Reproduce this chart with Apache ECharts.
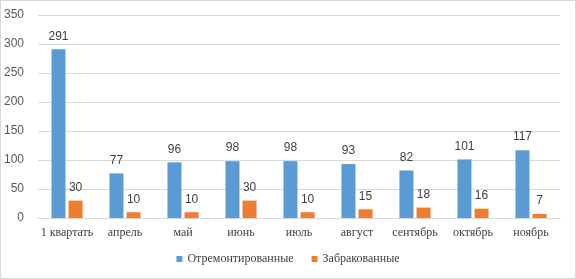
<!DOCTYPE html>
<html>
<head>
<meta charset="utf-8">
<script src="https://cdn.jsdelivr.net/npm/echarts@6/dist/echarts.min.js"></script>
<style>
  html, body { margin: 0; padding: 0; background: #fff; }
  #chart { width: 574px; height: 277px; border: 1px solid #d9d9d9; }
</style>
</head>
<body>
<div id="chart"></div>
<script>
const months = ['1 квартать', 'апрель', 'май', 'июнь', 'июль', 'август', 'сентябрь', 'октябрь', 'ноябрь']
const repaired = [291, 77, 96, 98, 98, 93, 82, 101, 117] // Отремонтированные
const rejected = [30, 10, 10, 30, 10, 15, 18, 16, 7] // Забракованные

const chart = echarts.init(document.getElementById('chart'))

const labelStyle = {
  show: true,
  position: 'top',
  distance: 7,
  color: '#404040',
  fontFamily: 'Liberation Sans',
  fontSize: 12,
}

chart.setOption({
  animation: false,
  grid: { left: 37, right: 15, top: 14, bottom: 60 },
  xAxis: {
    type: 'category',
    data: months,
    axisLine: { lineStyle: { color: '#d9d9d9' } },
    axisTick: { show: false },
    axisLabel: {
      interval: 0,
      color: '#404040',
      fontFamily: 'Liberation Serif',
      fontSize: 12,
      margin: 9,
    },
  },
  yAxis: {
    type: 'value',
    min: 0,
    max: 350,
    interval: 50,
    axisLine: { show: false },
    axisTick: { show: false },
    splitLine: { lineStyle: { color: '#d9d9d9' } },
    axisLabel: {
      color: '#595959',
      fontFamily: 'Liberation Sans',
      fontSize: 12,
      margin: 14,
    },
  },
  legend: {
    bottom: 8,
    left: 'center',
    itemWidth: 6,
    itemHeight: 6,
    itemGap: 18,
    icon: 'rect',
    textStyle: { color: '#404040', fontFamily: 'Liberation Serif', fontSize: 12 },
  },
  series: [
    {
      name: 'Отремонтированные',
      type: 'bar',
      data: repaired,
      barWidth: 14,
      barGap: '22%',
      itemStyle: { color: '#5B9BD5' },
      label: labelStyle,
    },
    {
      name: 'Забракованные',
      type: 'bar',
      data: rejected,
      barWidth: 14,
      itemStyle: { color: '#ED7D31' },
      label: labelStyle,
    },
  ],
})
</script>
</body>
</html>
